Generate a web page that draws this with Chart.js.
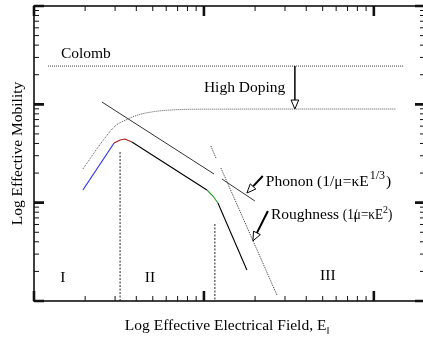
<!DOCTYPE html>
<html>
<head>
<meta charset="utf-8">
<script src="https://cdn.jsdelivr.net/npm/chart.js@4.4.1/dist/chart.umd.min.js"></script>
<style>
  html, body { margin: 0; padding: 0; background: #fff; overflow: hidden; width: 423px; height: 339px; }
  canvas { display: block; }
</style>
</head>
<body>
<canvas id="c" width="430" height="339"></canvas>
<script>
// Schematic: effective mobility vs. effective electrical field (log-log)

// Coulomb-limited level (low doping)
const colombX = [1.21, 150];
const colombY = [245, 245];

// Coulomb-limited curve at high doping
const dopingX = [1.94, 2.51, 3.0, 3.57, 4.09, 5.0, 6.3, 9.9, 135];
const dopingY = [22, 41.4, 60, 71, 78, 84, 87.5, 89.3, 89.6];

// Phonon-limited asymptote (drawn in two pieces)
const phononX = [2.51, 11.45, 12.1, 12.76, 19.95];
const phononY = [105.6, 19.6, null, 17.4, 10.4];

// Surface-roughness asymptote (drawn in two pieces)
const roughX = [10.99, 11.77, 12.2, 12.59, 26.9];
const roughY = [37.7, 28.5, null, 22.5, 1.15];

// Universal mobility curve
const mobilityX = [1.94, 2.96, 3.21, 3.43, 3.77, 10.41, 11.3, 12.09, 17.9];
const mobilityY = [13.45, 40.4, 43.4, 44.4, 41.4, 13.45, 11.69, 9.92, 2.07];
const mobilitySegColors = ['#2626ff', '#b01818', '#b01818', '#b01818', '#000000', '#1e9e1e', '#1e9e1e', '#000000'];

// Region boundaries I | II | III
const boundaryX = [3.21, 11.6];
const boundaryTopY = [32.7, 6.07];

// Arrows: [x0, y0, x1, y1]
const dopingArrow = [34.3, 245, 34.3, 89.6];
const phononArrow = [22.2, 18.67, 17.9, 12.54];
const roughArrow = [23.8, 8.23, 19.42, 4.08];

// Axis ranges and decade ticks
const xRange = [1, 200];
const yRange = [1, 1000];
const xDecades = [1, 10, 100];
const yDecades = [1, 10, 100, 1000];

// Text labels anchored at data coordinates
const labels = [
  { parts: [{ t: 'Colomb' }], x: 1.44, y: 296, align: 'left' },
  { parts: [{ t: 'High Doping' }], x: 10.0, y: 133.6, align: 'left' },
  { parts: [{ t: 'Phonon (1/\u03bc=\u03baE' }, { t: '1/3', sup: true, pad: 1 }, { t: ')' }], x: 23.15, y: 14.8, align: 'left' },
  { parts: [{ t: 'Roughness ' }, { t: '(1', sx: 0.85 }, { t: '/', sx: 0.85, adv: 0 }, { t: '\u03bc=\u03baE', sx: 0.85 },
            { t: '2', sup: true, small: true }, { t: ')', sx: 0.85 }], x: 24.8, y: 6.82, align: 'left' },
  { parts: [{ t: 'I' }], x: 1.48, y: 1.56, align: 'center' },
  { parts: [{ t: 'II' }], x: 4.81, y: 1.56, align: 'center' },
  { parts: [{ t: 'III' }], x: 53.6, y: 1.635, align: 'center' }
];
const xTitle = [{ t: 'Log Effective Electrical Field, E' }, { t: '\u2016', sub: true, small: true }];
const yTitle = 'Log Effective Mobility';

const FONT = '"Liberation Serif", "Times New Roman", serif';
const BASE = 15.5;

function pts(xs, ys) { return xs.map((x, i) => ({ x: x, y: ys[i] })); }

const datasets = [
  { data: pts(colombX, colombY), borderColor: '#3a3a3a', borderWidth: 1, borderDash: [1, 1] },
  { data: pts(dopingX, dopingY), borderColor: '#555', borderWidth: 1, borderDash: [1, 1], cubicInterpolationMode: 'monotone' },
  { data: pts(phononX, phononY), borderColor: '#333', borderWidth: 1, spanGaps: false },
  { data: pts(roughX, roughY), borderColor: '#333', borderWidth: 1, borderDash: [1, 1], spanGaps: false },
  {
    data: pts(mobilityX, mobilityY), borderColor: '#000', borderWidth: 1.1,
    segment: { borderColor: ctx => mobilitySegColors[ctx.p0DataIndex] }
  },
  { data: pts([boundaryX[0], boundaryX[0]], [boundaryTopY[0], yRange[0]]), borderColor: '#222', borderWidth: 1, borderDash: [2, 1.5] },
  { data: pts([boundaryX[1], boundaryX[1]], [boundaryTopY[1], yRange[0]]), borderColor: '#222', borderWidth: 1, borderDash: [2, 1.5] }
];

function fontFor(p) {
  const size = p.sup || p.sub ? (p.small ? 10 : 12) : BASE;
  return size + 'px ' + FONT;
}

function partAdvance(ctx, p) {
  ctx.font = fontFor(p);
  const w = p.adv !== undefined ? p.adv : ctx.measureText(p.t).width * (p.sx || 1);
  return w + 2 * (p.pad || 0);
}

function drawParts(ctx, parts, x, y, align) {
  let total = 0;
  parts.forEach(p => { total += partAdvance(ctx, p); });
  let cx = align === 'center' ? x - total / 2 : x;
  parts.forEach(p => {
    ctx.font = fontFor(p);
    const dy = p.sup ? -6.5 : (p.sub ? 4 : 0);
    ctx.save();
    ctx.translate(cx + (p.pad || 0), y + dy);
    ctx.scale(p.sx || 1, 1);
    ctx.fillText(p.t, 0, 0);
    ctx.restore();
    cx += partAdvance(ctx, p);
  });
}

function drawArrow(ctx, a, xs, ys, width) {
  const x0 = xs.getPixelForValue(a[0]), y0 = ys.getPixelForValue(a[1]);
  const x1 = xs.getPixelForValue(a[2]), y1 = ys.getPixelForValue(a[3]);
  const ang = Math.atan2(y1 - y0, x1 - x0);
  const hl = 9, hw = 3.8;
  const bx = x1 - hl * Math.cos(ang), by = y1 - hl * Math.sin(ang);
  ctx.save();
  ctx.strokeStyle = '#000';
  ctx.lineWidth = width;
  ctx.beginPath(); ctx.moveTo(x0, y0); ctx.lineTo(bx, by); ctx.stroke();
  ctx.lineWidth = 1;
  ctx.fillStyle = '#fff';
  ctx.beginPath();
  ctx.moveTo(x1, y1);
  ctx.lineTo(bx + hw * Math.sin(ang), by - hw * Math.cos(ang));
  ctx.lineTo(bx - hw * Math.sin(ang), by + hw * Math.cos(ang));
  ctx.closePath();
  ctx.fill(); ctx.stroke();
  ctx.restore();
}

function decadeTicks(decades, max) {
  const out = [];
  decades.forEach(d => {
    for (let k = 1; k <= 9; k++) {
      const v = d * k;
      if (v <= max * 1.0001) out.push({ v: v, major: k === 1 });
    }
  });
  return out;
}

const framePlugin = {
  id: 'frameAndNotes',
  afterDatasetsDraw(chart) {
    const ctx = chart.ctx;
    const xs = chart.scales.x, ys = chart.scales.y;
    const a = chart.chartArea;
    ctx.save();

    // frame
    ctx.strokeStyle = '#111';
    ctx.lineWidth = 1.6;
    ctx.strokeRect(a.left, a.top, a.right - a.left, a.bottom - a.top);

    // inward ticks on all four sides
    ctx.lineCap = 'butt';
    decadeTicks(xDecades, xRange[1]).forEach(t => {
      const px = xs.getPixelForValue(t.v);
      const len = t.major ? 10 : 5;
      ctx.lineWidth = t.major ? 2.6 : 1;
      ctx.beginPath();
      ctx.moveTo(px, a.bottom); ctx.lineTo(px, a.bottom - len);
      ctx.moveTo(px, a.top); ctx.lineTo(px, a.top + len);
      ctx.stroke();
    });
    decadeTicks(yDecades, yRange[1]).forEach(t => {
      const py = ys.getPixelForValue(t.v);
      const len = t.major ? 10 : 5;
      ctx.lineWidth = t.major ? 2.6 : 1;
      ctx.beginPath();
      ctx.moveTo(a.left, py); ctx.lineTo(a.left + len, py);
      ctx.moveTo(a.right, py); ctx.lineTo(a.right - len, py);
      ctx.stroke();
    });

    // arrows
    drawArrow(ctx, dopingArrow, xs, ys, 1.5);
    drawArrow(ctx, phononArrow, xs, ys, 2);
    drawArrow(ctx, roughArrow, xs, ys, 2);

    // labels
    ctx.fillStyle = '#000';
    ctx.textBaseline = 'alphabetic';
    ctx.textAlign = 'left';
    labels.forEach(l => {
      drawParts(ctx, l.parts, xs.getPixelForValue(l.x), ys.getPixelForValue(l.y), l.align);
    });

    // axis titles
    drawParts(ctx, xTitle, 227, 330, 'center');
    ctx.save();
    ctx.translate(22, (a.top + a.bottom) / 2);
    ctx.rotate(-Math.PI / 2);
    ctx.font = BASE + 'px ' + FONT;
    ctx.textAlign = 'center';
    ctx.fillText(yTitle, 0, 0);
    ctx.restore();

    ctx.restore();
  }
};

new Chart(document.getElementById('c'), {
  type: 'line',
  data: { datasets: datasets },
  options: {
    responsive: false,
    animation: false,
    events: [],
    layout: { padding: { left: 34, top: 6, right: 5, bottom: 38 } },
    elements: { point: { radius: 0 }, line: { tension: 0, fill: false } },
    plugins: { legend: { display: false }, tooltip: { enabled: false } },
    scales: {
      x: { type: 'logarithmic', min: xRange[0], max: xRange[1], display: false },
      y: { type: 'logarithmic', min: yRange[0], max: yRange[1], display: false }
    }
  },
  plugins: [framePlugin]
});
</script>
</body>
</html>
